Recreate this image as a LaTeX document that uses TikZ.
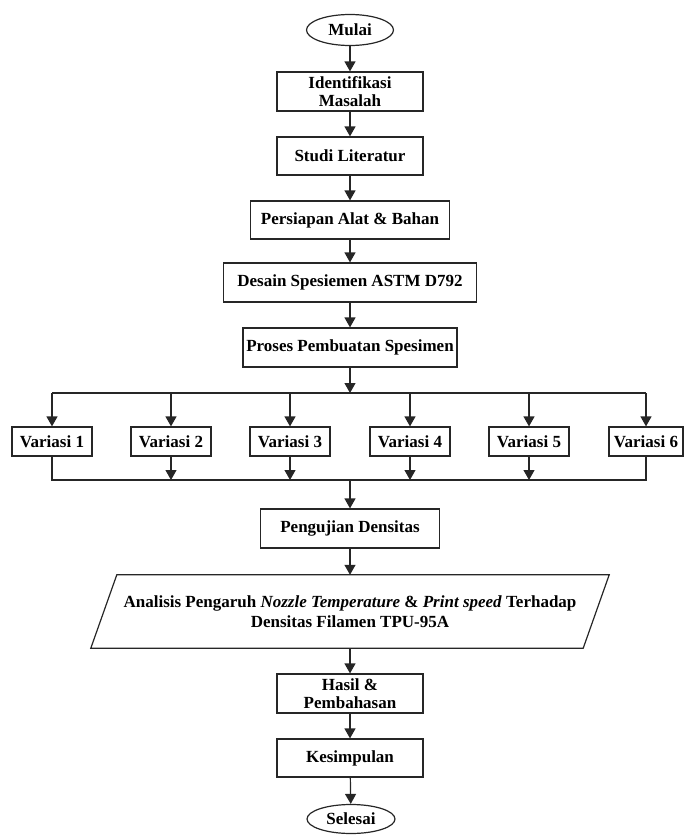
\documentclass[tikz,border=0pt]{standalone}
\usepackage{fontspec}
\setmainfont{Liberation Serif}
\usetikzlibrary{arrows.meta,shapes.geometric}
\begin{document}
\begin{tikzpicture}[x=1pt,y=-1pt,
  box/.style={draw=black!85,line width=1.2pt,rectangle,inner sep=0pt,align=center,
    font=\fontsize{17}{18.5}\selectfont\bfseries},
  term/.style={box,ellipse},
  var/.style={box,minimum width=80pt,minimum height=29pt},
  arr/.style={draw=black!85,line width=1.2pt,-{Triangle[width=11pt,length=10pt]}},
  ln/.style={draw=black!85,line width=1.2pt}]
\useasboundingbox (0,0) rectangle (683,835);

\node[term,minimum width=87pt,minimum height=31pt] (mulai) at (350,30) {Mulai};
\node[box,minimum width=146pt,minimum height=39pt] (iden) at (350,91.5) {Identifikasi\\Masalah};
\node[box,minimum width=146pt,minimum height=38pt] (studi) at (350,156) {Studi Literatur};
\node[box,minimum width=199pt,minimum height=38pt] (pers) at (350,220) {Persiapan Alat \& Bahan};
\node[box,minimum width=253pt,minimum height=39pt] (desain) at (350,282.5) {Desain Spesiemen ASTM D792};
\node[box,minimum width=214pt,minimum height=39pt] (proses) at (350,347.5) {Proses Pembuatan Spesimen};

\coordinate (top) at (350,393);
\node[var] (v1) at (52,441.5) {Variasi 1};
\node[var] (v2) at (171,441.5) {Variasi 2};
\node[var] (v3) at (290,441.5) {Variasi 3};
\node[var] (v4) at (410,441.5) {Variasi 4};
\node[var] (v5) at (529,441.5) {Variasi 5};
\node[var,minimum width=74pt] (v6) at (646,441.5) {Variasi 6};
\coordinate (bot) at (350,480);

\node[box,minimum width=179pt,minimum height=39pt] (peng) at (350,528.5) {Pengujian Densitas};
\node[inner sep=0pt,minimum width=492pt,minimum height=73pt,align=center,
  font=\fontsize{17}{19.5}\selectfont\bfseries] (ana) at (350,611.5)
  {Analisis Pengaruh \textit{Nozzle Temperature} \& \textit{Print speed} Terhadap\\Densitas Filamen TPU-95A};
\draw[ln] ([xshift=13pt]ana.north west) -- ([xshift=13pt]ana.north east)
  -- ([xshift=-13pt]ana.south east) -- ([xshift=-13pt]ana.south west) -- cycle;
\node[box,minimum width=146pt,minimum height=39pt] (hasil) at (350,693.5) {Hasil \&\\Pembahasan};
\node[box,minimum width=146pt,minimum height=38pt] (kes) at (350,758) {Kesimpulan};
\node[term,minimum width=88pt,minimum height=29pt] (sel) at (351,819) {Selesai};

\draw[arr] (mulai) -- (iden);
\draw[arr] (iden) -- (studi);
\draw[arr] (studi) -- (pers);
\draw[arr] (pers) -- (desain);
\draw[arr] (desain) -- (proses);
\draw[arr] (proses) -- (top);
\draw[ln] (v1.north |- top) -- (v6.north |- top);
\foreach \v in {v1,v2,v3,v4,v5,v6}{\draw[arr] (\v.north |- top) -- (\v.north);}
\draw[ln] (v1.south) -- (v1.south |- bot) -- (v6.south |- bot) -- (v6.south);
\foreach \v in {v2,v3,v4,v5}{\draw[arr] (\v.south) -- (\v.south |- bot);}
\draw[arr] (bot) -- (peng);
\draw[arr] (peng) -- (ana);
\draw[arr] (ana) -- (hasil);
\draw[arr] (hasil) -- (kes);
\draw[arr] (kes) -- (sel);
\end{tikzpicture}
\end{document}
